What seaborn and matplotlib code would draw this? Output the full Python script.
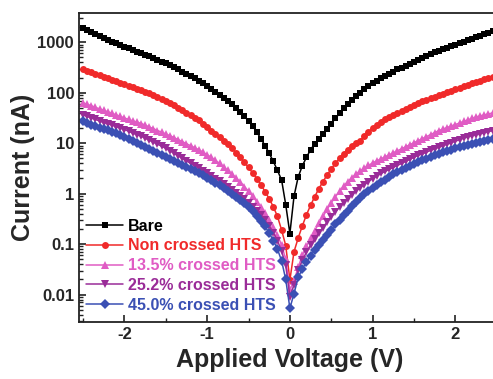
import matplotlib
matplotlib.use("Agg")
import matplotlib.pyplot as plt
import matplotlib.ticker as mticker
import numpy as np
import pandas as pd
import seaborn as sns

# applied voltage grid (V), 0.05 V steps as in the measurement
voltage = np.round(np.linspace(-2.5, 2.5, 101), 2)

# currents, stored as log10(I / nA)
bare_log = [
    3.28, 3.25, 3.21, 3.17, 3.13, 3.09, 3.05, 3.01, 2.98, 2.95,
    2.91, 2.88, 2.85, 2.81, 2.78, 2.75, 2.72, 2.68, 2.65, 2.61,
    2.58, 2.54, 2.50, 2.46, 2.42, 2.38, 2.33, 2.29, 2.24, 2.19,
    2.14, 2.08, 2.02, 1.96, 1.90, 1.84, 1.77, 1.70, 1.62, 1.53,
    1.44, 1.34, 1.22, 1.09, 0.95, 0.80, 0.64, 0.46, 0.27, -0.22,
    -0.79,
    -0.05, 0.33, 0.55, 0.72, 0.87, 0.99, 1.09, 1.19, 1.29, 1.39,
    1.49, 1.59, 1.69, 1.77, 1.85, 1.93, 2.00, 2.07, 2.13, 2.19,
    2.24, 2.29, 2.33, 2.38, 2.42, 2.46, 2.49, 2.53, 2.56, 2.60,
    2.64, 2.68, 2.72, 2.76, 2.80, 2.83, 2.86, 2.89, 2.92, 2.95,
    2.98, 3.01, 3.04, 3.07, 3.10, 3.13, 3.16, 3.19, 3.22, 3.25,
]
non_crossed_log = [
    2.47, 2.44, 2.41, 2.38, 2.35, 2.32, 2.29, 2.26, 2.23, 2.20,
    2.17, 2.14, 2.11, 2.08, 2.05, 2.02, 1.99, 1.95, 1.91, 1.87,
    1.83, 1.79, 1.75, 1.70, 1.65, 1.60, 1.55, 1.50, 1.45, 1.39,
    1.33, 1.25, 1.19, 1.12, 1.05, 0.98, 0.90, 0.81, 0.72, 0.62,
    0.52, 0.41, 0.30, 0.18, 0.04, -0.10, -0.26, -0.45, -0.72, -1.03,
    -1.71,
    -1.15, -0.88, -0.64, -0.42, -0.23, -0.06, 0.10, 0.24, 0.37, 0.49,
    0.60, 0.70, 0.79, 0.87, 0.94, 1.00, 1.05, 1.15, 1.23, 1.30,
    1.36, 1.42, 1.47, 1.52, 1.56, 1.60, 1.64, 1.68, 1.72, 1.76,
    1.79, 1.83, 1.86, 1.89, 1.92, 1.95, 1.98, 2.01, 2.04, 2.07,
    2.10, 2.13, 2.16, 2.19, 2.21, 2.24, 2.27, 2.30, 2.32, 2.34,
]
crossed_135_log = [
    1.80, 1.77, 1.74, 1.71, 1.68, 1.65, 1.62, 1.59, 1.56, 1.53,
    1.50, 1.47, 1.44, 1.42, 1.39, 1.36, 1.32, 1.29, 1.25, 1.22,
    1.18, 1.15, 1.11, 1.07, 1.03, 0.99, 0.95, 0.91, 0.87, 0.82,
    0.77, 0.72, 0.66, 0.60, 0.53, 0.46, 0.39, 0.31, 0.23, 0.14,
    0.05, -0.05, -0.16, -0.27, -0.39, -0.52, -0.66, -0.82, -1.02, -1.30,
    -1.91,
    -1.72, -1.46, -1.22, -1.04, -0.88, -0.73, -0.59, -0.45, -0.31, -0.18,
    -0.06, 0.05, 0.15, 0.24, 0.32, 0.39, 0.45, 0.51, 0.56, 0.61,
    0.65, 0.69, 0.73, 0.77, 0.81, 0.85, 0.89, 0.93, 0.97, 1.01,
    1.05, 1.09, 1.13, 1.17, 1.21, 1.25, 1.28, 1.31, 1.34, 1.37,
    1.40, 1.43, 1.46, 1.49, 1.52, 1.54, 1.56, 1.58, 1.60, 1.62,
]
crossed_252_log = [
    1.56, 1.53, 1.50, 1.47, 1.44, 1.41, 1.39, 1.36, 1.33, 1.30,
    1.27, 1.24, 1.20, 1.17, 1.14, 1.10, 1.06, 1.02, 0.98, 0.94,
    0.90, 0.85, 0.80, 0.75, 0.70, 0.65, 0.60, 0.55, 0.50, 0.45,
    0.40, 0.35, 0.30, 0.25, 0.19, 0.13, 0.07, 0.01, -0.05, -0.11,
    -0.18, -0.26, -0.34, -0.43, -0.53, -0.64, -0.77, -0.93, -1.14, -1.42,
    -2.04,
    -1.80, -1.52, -1.32, -1.16, -1.02, -0.90, -0.78, -0.67, -0.56, -0.46,
    -0.36, -0.27, -0.18, -0.10, -0.02, 0.05, 0.12, 0.18, 0.24, 0.30,
    0.35, 0.40, 0.44, 0.48, 0.52, 0.56, 0.60, 0.64, 0.68, 0.72,
    0.76, 0.79, 0.82, 0.86, 0.89, 0.92, 0.95, 0.98, 1.01, 1.04,
    1.07, 1.10, 1.13, 1.15, 1.17, 1.19, 1.21, 1.23, 1.25, 1.27,
]
crossed_450_log = [
    1.43, 1.40, 1.37, 1.34, 1.31, 1.28, 1.26, 1.23, 1.20, 1.16,
    1.13, 1.09, 1.05, 1.01, 0.97, 0.93, 0.89, 0.85, 0.81, 0.77,
    0.73, 0.69, 0.65, 0.61, 0.57, 0.53, 0.49, 0.45, 0.41, 0.37,
    0.32, 0.27, 0.22, 0.17, 0.12, 0.06, 0.00, -0.06, -0.12, -0.19,
    -0.27, -0.35, -0.44, -0.54, -0.65, -0.78, -0.93, -1.10, -1.33, -1.70,
    -2.27,
    -1.98, -1.66, -1.49, -1.35, -1.23, -1.12, -1.01, -0.91, -0.81, -0.71,
    -0.61, -0.52, -0.43, -0.34, -0.25, -0.16, -0.08, -0.01, 0.06, 0.12,
    0.18, 0.23, 0.28, 0.33, 0.38, 0.43, 0.47, 0.51, 0.55, 0.59,
    0.63, 0.66, 0.69, 0.73, 0.76, 0.79, 0.82, 0.85, 0.87, 0.90,
    0.92, 0.95, 0.97, 0.99, 1.01, 1.03, 1.05, 1.07, 1.09, 1.11,
]

labels = ["Bare", "Non crossed HTS", "13.5% crossed HTS",
          "25.2% crossed HTS", "45.0% crossed HTS"]
colors = ["#000000", "#f02a2a", "#e05cc4", "#9a2c98", "#3b50b4"]
markers = ["s", "o", "^", "v", "D"]
y_ticks = [0.01, 0.1, 1, 10, 100, 1000]
y_tick_labels = ["0.01", "0.1", "1", "10", "100", "1000"]

series = [bare_log, non_crossed_log, crossed_135_log, crossed_252_log, crossed_450_log]
frames = []
for name, logs in zip(labels, series):
    frames.append(pd.DataFrame({"voltage": voltage,
                                "current": 10 ** np.array(logs),
                                "sample": name}))
df = pd.concat(frames, ignore_index=True)

sns.set_style("white")
plt.rcParams["font.family"] = ["Liberation Sans", "DejaVu Sans"]
plt.rcParams["font.weight"] = "bold"
plt.rcParams["axes.unicode_minus"] = False

fig = plt.figure(figsize=(4.93, 3.79), dpi=100)
ax = fig.add_axes([0.160, 0.150, 0.856, 0.815])

sns.lineplot(data=df, x="voltage", y="current", hue="sample", style="sample",
             hue_order=labels, style_order=labels,
             palette=dict(zip(labels, colors)),
             markers=dict(zip(labels, markers)), dashes=False,
             estimator=None, sort=True, linewidth=1.1, markersize=5,
             markeredgewidth=0, ax=ax)

# triangles read smaller than squares at the same size
for line in ax.lines:
    if line.get_marker() in ("^", "v"):
        line.set_markersize(6.2)

ax.set_yscale("log")
ax.set_xlim(-2.55, 2.55)
ax.set_ylim(10 ** -2.545, 10 ** 3.574)

ax.set_xticks([-2, -1, 0, 1, 2])
ax.xaxis.set_minor_locator(mticker.MultipleLocator(0.5))
ax.yaxis.set_major_locator(mticker.FixedLocator(y_ticks))
ax.yaxis.set_major_formatter(mticker.FixedFormatter(y_tick_labels))
ax.yaxis.set_minor_locator(mticker.LogLocator(base=10, subs=np.arange(2, 10), numticks=20))
ax.yaxis.set_minor_formatter(mticker.NullFormatter())

ax.tick_params(axis="both", which="major", direction="in", length=5, width=1.2,
               labelsize=12, color="#222222", bottom=True, left=True, top=False, right=False)
ax.tick_params(axis="both", which="minor", direction="in", length=3, width=1.0,
               color="#222222", bottom=True, left=True, top=False, right=False)
for lab in ax.get_xticklabels() + ax.get_yticklabels():
    lab.set_fontweight("bold")

for spine in ax.spines.values():
    spine.set_color("#222222")
    spine.set_linewidth(1.3)

ax.set_xlabel("Applied Voltage (V)", fontsize=18, fontweight="bold", labelpad=4)
ax.set_ylabel("Current (nA)", fontsize=18, fontweight="bold", labelpad=2)

handles, hl = ax.get_legend_handles_labels()
pairs = [(h, l) for h, l in zip(handles, hl) if l in labels]
leg = ax.legend([p[0] for p in pairs], [p[1] for p in pairs], loc="lower left",
                bbox_to_anchor=(0.01, 0.02), frameon=False, fontsize=11.5,
                handlelength=2.3, handletextpad=0.3, labelspacing=0.3,
                borderpad=0.2, borderaxespad=0)
for text, c in zip(leg.get_texts(), colors):
    text.set_color(c)
    text.set_fontweight("bold")

fig.savefig("out.png", dpi=100)
